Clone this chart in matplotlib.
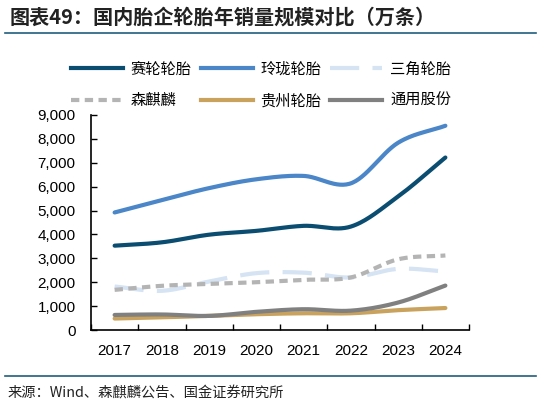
import numpy as np
import matplotlib
matplotlib.use("Agg")
import matplotlib.pyplot as plt
from matplotlib.lines import Line2D

plt.rcParams['font.family'] = ['Liberation Sans', 'Noto Sans CJK SC', 'DejaVu Sans']

years = ['2017', '2018', '2019', '2020', '2021', '2022', '2023', '2024']
saier = [3530, 3670, 3990, 4150, 4360, 4330, 5590, 7220]
linglong = [4920, 5440, 5940, 6310, 6450, 6140, 7840, 8550]
sanjiao = [1820, 1640, 2030, 2380, 2400, 2200, 2560, 2450]
senqilin = [1680, 1850, 1930, 2000, 2100, 2200, 2960, 3120]
guizhou = [480, 530, 590, 660, 700, 700, 830, 920]
tongyong = [630, 650, 590, 760, 870, 810, 1150, 1860]
yticks = [0, 1000, 2000, 3000, 4000, 5000, 6000, 7000, 8000, 9000]

names = ['赛轮轮胎', '玲珑轮胎', '三角轮胎', '森麒麟', '贵州轮胎', '通用股份']
series = [saier, linglong, sanjiao, senqilin, guizhou, tongyong]
colors = ['#0B4D70', '#4A86C8', '#D5E3F3', '#B4B4B4', '#C9A35E', '#808080']
dashes = [None, None, (7, 3.2), (2.0, 1.3), None, None]


def smooth(y, n=30):
    # Catmull-Rom rendering of the line (like Excel smoothed lines)
    y = np.asarray(y, float)
    x = np.arange(len(y), dtype=float)
    P = np.vstack([x, y]).T
    P = np.vstack([P[0] - (P[1] - P[0]), P, P[-1] + (P[-1] - P[-2])])
    out = []
    for i in range(1, len(P) - 2):
        p0, p1, p2, p3 = P[i - 1], P[i], P[i + 1], P[i + 2]
        t = np.linspace(0, 1, n, endpoint=False)[:, None]
        seg = 0.5 * ((2 * p1) + (-p0 + p2) * t + (2 * p0 - 5 * p1 + 4 * p2 - p3) * t ** 2
                     + (-p0 + 3 * p1 - 3 * p2 + p3) * t ** 3)
        out.append(seg)
    out.append(P[-2][None, :])
    out = np.vstack(out)
    return out[:, 0], out[:, 1]


fig = plt.figure(figsize=(5.41, 4.05), dpi=100)
ax = fig.add_axes([91 / 541, 1 - 330 / 405, (469 - 91) / 541, (330 - 115) / 405])

for vals, c, d in zip(series, colors, dashes):
    xs, ys = smooth(vals)
    ln, = ax.plot(xs, ys, color=c, lw=3, solid_capstyle='round', dash_capstyle='butt')
    if d is not None:
        ln.set_dashes(d)

ax.set_xlim(-0.5, len(years) - 0.5)
ax.set_ylim(0, 9000)
ax.set_yticks(yticks)
ax.set_yticklabels([f'{v:,}' for v in yticks], fontsize=11)
ax.set_xticks(np.arange(len(years)))
ax.set_xticklabels(years, fontsize=11)
ax.tick_params(axis='x', which='major', length=0, pad=10)
ax.set_xticks(np.arange(len(years) + 1) - 0.5, minor=True)
ax.tick_params(axis='x', which='minor', direction='in', length=4, width=1)
ax.tick_params(axis='y', direction='in', length=4, width=1, pad=11)
for s in ['top', 'right']:
    ax.spines[s].set_visible(False)
for s in ['left', 'bottom']:
    ax.spines[s].set_linewidth(1.2)
    ax.spines[s].set_color('black')

handles = []
for c, d in zip(colors, dashes):
    h = Line2D([], [], color=c, lw=3)
    if d is not None:
        h.set_dashes(d)
    handles.append(h)
# legend fills column by column: reorder so rows read as in the reference
order = [0, 3, 1, 4, 2, 5]
leg = fig.legend([handles[i] for i in order], [names[i] for i in order], ncol=3, loc='center',
                 bbox_to_anchor=(261 / 541, 1 - 85 / 405),
                 frameon=False, handlelength=3.4, handletextpad=0.5, columnspacing=0.6,
                 labelspacing=0.95, prop={'family': ['Noto Sans CJK SC'], 'size': 11})

fig.text(10 / 541, 1 - 17 / 405, '图表49：国内胎企轮胎年销量规模对比（万条）',
         fontsize=14.5, fontweight='bold', color='#222222', va='center', ha='left',
         family=['Noto Sans CJK SC', 'DejaVu Sans'], style='italic')
fig.add_artist(Line2D([5 / 541, 536 / 541], [1 - 33 / 405, 1 - 33 / 405], color='#1F5E7E', lw=1.2))
fig.add_artist(Line2D([5 / 541, 536 / 541], [1 - 376 / 405, 1 - 376 / 405], color='#1F5E7E', lw=1.2))
fig.text(8 / 541, 1 - 393 / 405, '来源：Wind、森麒麟公告、国金证券研究所', fontsize=10.3,
         color='#222222', va='center', ha='left', family=['Noto Sans CJK SC', 'DejaVu Sans'])

fig.savefig('out.png', dpi=100)
